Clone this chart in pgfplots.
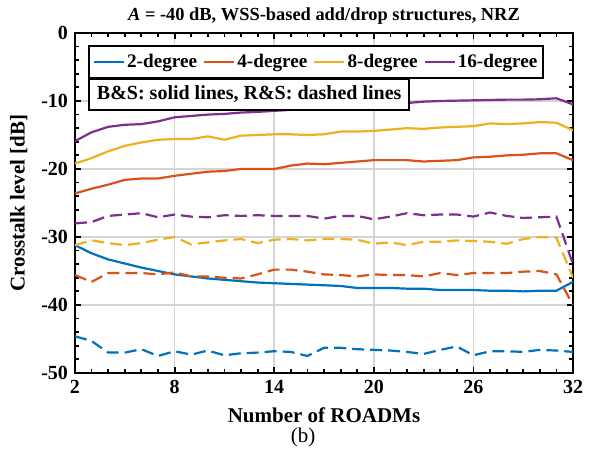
\documentclass[border=0pt]{standalone}
\usepackage{fontspec}
\setmainfont{Liberation Serif}
\usepackage{pgfplots}
\pgfplotsset{compat=1.18}
\usepackage{pgfplotstable}
\definecolor{mblue}{rgb}{0,0.447,0.741}
\definecolor{morange}{rgb}{0.85,0.325,0.098}
\definecolor{myellow}{rgb}{0.929,0.694,0.125}
\definecolor{mpurple}{rgb}{0.494,0.184,0.556}
\pgfplotstableread{
n b o y p bd od yd pd
2 -31.2 -23.6 -19.2 -15.9 -44.6 -35.6 -31.2 -28.0
3 -32.4 -22.9 -18.4 -14.6 -45.3 -36.6 -30.5 -27.8
4 -33.3 -22.3 -17.4 -13.8 -47.0 -35.3 -30.9 -26.9
5 -33.9 -21.6 -16.6 -13.5 -47.0 -35.3 -31.2 -26.7
6 -34.5 -21.4 -16.1 -13.4 -46.5 -35.3 -30.9 -26.5
7 -35.0 -21.4 -15.7 -13.0 -47.5 -35.5 -30.4 -27.1
8 -35.5 -21.0 -15.6 -12.4 -46.8 -35.2 -30.0 -26.7
9 -35.8 -20.7 -15.6 -12.2 -47.3 -35.8 -31.1 -27.0
10 -36.1 -20.4 -15.2 -12.0 -46.7 -35.8 -30.8 -27.1
11 -36.3 -20.3 -15.7 -11.9 -47.4 -36.0 -30.5 -26.8
12 -36.5 -20.0 -15.1 -11.7 -47.1 -36.1 -30.3 -26.9
13 -36.7 -20.0 -15.0 -11.6 -47.0 -35.5 -30.9 -26.8
14 -36.8 -20.0 -14.9 -11.45 -46.8 -34.8 -30.4 -26.9
15 -36.9 -19.5 -14.9 -11.3 -46.9 -34.8 -30.3 -26.9
16 -37.0 -19.2 -15.0 -11.15 -47.5 -35.1 -30.5 -26.9
17 -37.1 -19.3 -14.9 -11.0 -46.3 -35.5 -30.3 -27.3
18 -37.2 -19.1 -14.5 -10.85 -46.3 -35.6 -30.3 -26.9
19 -37.5 -18.9 -14.5 -10.7 -46.5 -35.8 -30.4 -26.9
20 -37.5 -18.7 -14.4 -10.55 -46.6 -35.5 -31.0 -27.4
21 -37.5 -18.7 -14.2 -10.4 -46.7 -35.6 -30.8 -27.0
22 -37.6 -18.7 -14.0 -10.3 -46.9 -35.6 -31.2 -26.5
23 -37.6 -18.9 -14.1 -10.1 -47.2 -35.8 -30.7 -26.8
24 -37.8 -18.8 -13.9 -10.0 -46.6 -35.3 -30.7 -26.7
25 -37.8 -18.7 -13.8 -9.95 -46.1 -35.6 -30.5 -26.7
26 -37.8 -18.3 -13.7 -9.9 -47.4 -35.3 -30.6 -27.0
27 -37.9 -18.2 -13.3 -9.85 -46.8 -35.3 -30.7 -26.4
28 -37.9 -18.0 -13.4 -9.8 -46.8 -35.3 -31.0 -26.9
29 -38.0 -17.9 -13.3 -9.8 -46.9 -35.1 -30.3 -27.2
30 -37.9 -17.7 -13.1 -9.75 -46.6 -35.0 -30.0 -27.1
31 -37.9 -17.7 -13.2 -9.6 -46.7 -35.5 -30.1 -27.0
32 -36.6 -18.7 -14.3 -10.5 -46.9 -40.0 -36.0 -34.0
}\data
\begin{document}
\begin{tikzpicture}
\begin{axis}[name=ax, scale only axis, width=249pt, height=170pt,
  xmin=2, xmax=32, ymin=-50, ymax=0,
  xtick={2,8,14,20,26,32}, xticklabels={2,8,14,20,26,32},
  ytick={-50,-40,-30,-20,-10,0}, yticklabels={-50,-40,-30,-20,-10,0},
  minor x tick num=5, minor y tick num=4,
  tick align=inside, axis line style={line width=1.2pt},
  major tick length=3pt, minor tick length=2pt,
  tick style={black, line width=0.9pt},
  grid=major, major grid style={black!17, line width=0.8pt},
  ticklabel style={font=\fontsize{10}{12}\selectfont\bfseries},
  xlabel={Number of ROADMs}, ylabel={Crosstalk level [dB]},
  label style={font=\fontsize{10.5}{12}\selectfont\bfseries},
  title={\textit{A} = -40 dB, WSS-based add/drop structures, NRZ},
  title style={font=\fontsize{9.2}{11}\selectfont\bfseries, yshift=-5pt},
  legend columns=4,
  legend image code/.code={\draw[#1] (0pt,0pt) -- (15pt,0pt);},
  legend style={at={(0.026,0.965)}, anchor=north west, draw=black, line width=1pt,
    font=\fontsize{9.6}{12}\selectfont\bfseries, inner xsep=2pt, inner ysep=2pt,
    nodes={inner xsep=1pt},
    /tikz/every even column/.append style={column sep=2pt}},
  legend cell align=left,
]
\addplot[mblue, line width=1.1pt] table[x=n,y=b]{\data}; \addlegendentry{2-degree}
\addplot[morange, line width=1.1pt] table[x=n,y=o]{\data}; \addlegendentry{4-degree}
\addplot[myellow, line width=1.1pt] table[x=n,y=y]{\data}; \addlegendentry{8-degree}
\addplot[mpurple, line width=1.1pt] table[x=n,y=p]{\data}; \addlegendentry{16-degree}
\addplot[mblue, line width=1.1pt, dash pattern=on 6pt off 3pt, forget plot] table[x=n,y=bd]{\data};
\addplot[morange, line width=1.1pt, dash pattern=on 6pt off 3pt, forget plot] table[x=n,y=od]{\data};
\addplot[myellow, line width=1.1pt, dash pattern=on 6pt off 3pt, forget plot] table[x=n,y=yd]{\data};
\addplot[mpurple, line width=1.1pt, dash pattern=on 6pt off 3pt, forget plot] table[x=n,y=pd]{\data};
\node[draw=black, line width=1pt, fill=white, anchor=north west, inner xsep=4pt, inner ysep=3.5pt,
  font=\fontsize{10}{12}\selectfont\bfseries] at (rel axis cs:0.026,0.868) {B\&S: solid lines, R\&S: dashed lines};
\end{axis}
\node[font=\fontsize{10.5}{12}\selectfont] at ([xshift=-10.5pt,yshift=-32pt]ax.south) {(b)};
\pgfresetboundingbox
\path ([xshift=-37.5pt,yshift=-42pt]ax.south west) rectangle ([xshift=9.5pt,yshift=16.5pt]ax.north east);
\end{tikzpicture}
\end{document}
